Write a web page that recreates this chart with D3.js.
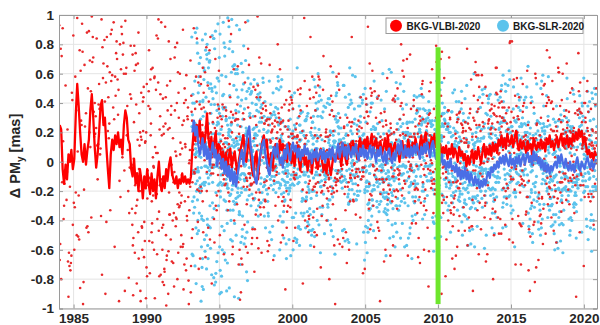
<!DOCTYPE html>
<html><head><meta charset="utf-8">
<script src="https://cdn.jsdelivr.net/npm/d3@7"></script>
<style>body{margin:0;background:#fff}</style>
</head><body><svg id="c" width="600" height="325"></svg>
<script>
const xTicks=[1985,1990,1995,2000,2005,2010,2015,2020];
const yTicks=[-1,-0.8,-0.6,-0.4,-0.2,0,0.2,0.4,0.6,0.8,1];
const seriesNames=["BKG-VLBI-2020","BKG-SLR-2020"];
const markerYear=2010;
const markerRange=[-0.97,0.78];
// smoothed series (mas), one value every 0.1 yr
const vlbiLineStart=1984.05, slrLineStart=1993.15, lineStep=0.1;
const vlbiLine=[
.25,.22,-.05,-.15,-.02,-.12,.05,0,.08,-.05,
.02,.32,.53,.38,.2,.05,0,.12,-.02,.08,
.15,.35,.46,.3,.1,-.04,.05,.2,.38,.42,
.25,.3,.1,-.05,-.18,.05,.15,.08,.18,.12,
.2,.1,.15,.05,.25,.35,.3,.15,.12,-.05,
-.1,.02,-.15,-.08,-.2,-.05,-.12,-.25,-.1,-.18,
-.05,-.15,-.22,-.08,-.2,-.12,-.25,-.1,0,-.15,
-.2,-.1,-.18,-.05,-.12,-.02,.03,-.08,-.12,-.15,
-.1,-.18,-.12,-.15,-.08,-.14,-.1,-.15,-.12,-.15,
-.1,.1,.22,.14,.25,.17,.28,.12,.2,.1,
.18,.33,.16,.08,.17,.05,.14,.2,.04,.12,
.1,.02,.07,-.03,.06,-.05,.04,.09,-.04,.03,
.07,-.02,-.08,.02,.08,.13,.18,.06,0,.1,
.16,.04,-.06,-.1,.03,.07,-.12,0,.08,.14,
.18,.1,.15,.02,-.03,.06,-.04,.05,.12,.07,
.03,.15,.08,.12,.02,.09,0,.13,.06,-.01,
.07,-.03,.05,.11,.01,-.06,.04,.08,-.02,.03,
-.06,.01,.05,-.07,.03,.08,-.01,-.05,.04,.09,
0,-.06,-.02,-.08,.04,-.03,-.09,-.01,.05,.01,
.06,.02,.09,-.03,.05,.11,.02,-.02,.08,.12,
.05,.14,.07,.12,.02,.1,.16,.06,.11,.15,
.09,.17,.08,.13,.19,.07,.12,.16,.06,.11,
.14,.05,.1,.15,.08,.18,.06,.12,.03,.1,
.13,.06,.1,0,.08,.14,.04,.11,.07,.15,
.1,.05,.13,.08,.16,.1,.05,.12,.18,.09,
.15,.2,.09,.13,.06,.17,.11,.19,.1,.14,
.07,.12,.04,.1,.06,.11,.02,.09,.05,.12,
.03,.09,.06,0,.1,.04,.07,.01,.05,-.03,
.04,-.02,.03,.08,-.01,.07,.02,.1,.04,-.01,
.07,.12,.03,.09,.05,.11,.04,.13,.07,.12,
.06,.15,.11,.18,.1,.16,.09,.19,.14,.12,
.18,.1,.16,.21,.12,.08,.15,.09,.14,.1,
.06,.14,.09,.12,.05,.16,.11,.08,.13,.1,
.15,.09,.13,.07,.16,.12,.18,.1,.14,.08,
.13,.17,.1,.15,.19,.11,.16,.12,.18,.1,
.16,.12,.19,.14,.2,.15,.22,.17,.21,.13,
.17,.11,.05,.08,.03,.06,.01,.07,.04];
const slrLine=[
.2,.28,.18,.24,.12,.05,.1,.16,.04,
.12,.02,.09,-.02,.07,.13,.03,.08,-.03,.05,
.03,-.05,.02,-.08,0,-.1,-.03,-.13,-.05,-.15,
-.07,-.17,-.09,-.02,.04,.08,-.02,.07,.13,.2,
.24,.1,.03,-.06,-.12,-.15,-.05,.02,.07,.12,
.15,.05,0,-.06,-.09,0,.06,.1,.03,.12,
.05,-.01,.03,-.04,.08,.02,.12,.06,.01,.09,
.13,.07,.11,.03,.09,.01,.08,.04,.11,.05,
.09,.02,.06,-.01,.07,.03,.09,.01,.05,.08,
.02,.08,0,.06,.03,.09,.02,.1,.04,0,
.07,.12,.03,.09,.13,.04,.1,.02,.11,.06,
.03,.1,.05,.12,.06,.01,.09,.04,.11,.03,
.08,.02,.07,.11,.03,.1,.05,0,.08,.04,
.1,.03,0,.07,-.01,.06,.09,.02,-.01,.06,
.01,.08,.12,.05,.14,.07,.03,.11,.04,.09,
.03,.1,.04,.11,.06,.12,.07,.02,.1,.05,
.12,.06,.13,.08,.03,.11,.14,.06,.02,.1,
.04,-.01,.05,-.02,.01,-.05,0,-.04,.02,-.05,
-.03,-.07,-.02,-.1,-.04,-.12,-.06,-.11,-.04,-.12,
-.07,-.14,-.08,-.12,-.16,-.1,-.15,-.12,-.18,-.13,
-.17,-.12,-.16,-.1,-.07,-.11,-.04,-.07,-.02,-.05,
0,-.04,.03,-.01,.04,-.02,.05,0,-.03,.04,
-.02,.02,-.04,.03,-.01,.04,-.03,.02,.05,-.02,
.03,.06,0,.04,-.02,.07,.01,.05,-.01,.03,
-.04,.01,-.06,-.01,-.07,-.02,-.08,-.03,-.06,-.02,
0,-.04,.04,-.01,.05,0,-.04,.02,-.03,-.06,
0,-.06,-.02,-.07,-.01,.03,-.04,-.06,0,-.03,
-.05,0,.03,-.02,-.04,.01,-.05,-.01,.02];
// individual solutions, in 0.01 mas, spread over each time span
const vlbiSpanA=[1984.0,1989.0];
const vlbiDotsA=[93,-41,62,8,-77,35,81,-12,47,-95,71,22,-58,89,14,-33,66,-2,54,-86,
38,97,-21,73,11,-64,49,85,-7,29,-48,91,61,-19,43,-90,76,18,-37,58,
3,84,-69,32,68,-26,95,50,-14,26,-82,79,41,-53,64,9,-31,87,23,-74,
56,99,-9,37,-44,72,16,-97,46,83,-23,60,5,-60,92,31,-17,70,-38,52,
13,88,-80,44,75,-4,27,-51,96,36,-28,63,19,-71,82,48,-11,59,-45,77,
21,94,-35,67,7,-88,53,86,-24,40,-62,74,10,-15,90,33,-56,65,25,-79,
57,98,-6,39,-43,80,17,-92,45,69,-30,55,2,-67,85,28,-20,78,-50,60,
12,42,-13,34,-68,58,20,-39,87,24];
const vlbiSpanB=[1989.0,1993.2];
const vlbiDotsB=[-32,55,-78,12,-45,-5,81,-60,28,-21,-93,40,-12,67,-38,3,-71,22,-54,90,
-16,-83,35,-27,8,-64,51,-9,-47,74,-35,18,-97,44,-20,-58,6,62,-40,-11,
29,-75,15,-30,86,-52,-2,38,-66,24,-88,47,-18,-43,70,-25,10,-60,33,-80,
57,-14,-36,20,-70,95,-48,4,-23,45,-90,13,-56,31,-8,78,-42,-17,52,-65,
9,-34,66,-85,26,-1,-50,41,-28,84,-62,16,-76,37,-10,-44,60,-22,2,-68,
48,-37,19,-95,30,-15,73,-53,-6,42,-82,11,-29,58,-46,23,-72,50,-19,88,
-39,-3,34,-61,14,-87,46,-26,7,-55,69,-13,-41,25,-78,39,-7,63,-33,-98,
21,-50,54,-16,-69,36,-24,92,-45,5,-63,27,-9,76,-40,-84,17,-31,49,-57,
32,-12,-74,43,-20,61,-93,8,-36,53,-27,18,-66,40,-4,-52,82,-18,28,-77,
15,-44,64,-89,35,-11,-58,22,-30,71,-48,1,-67,44,-23,97,-35,-14,56,-81,
26,-60,13,-39,79,-8,-54,31,-73,47,-21,6,-91,38,-16,59,-43,20,-62,10];
const vlbiSpanC=[1993.2,2020.9];
const vlbiDotsC=[12,-35,48,2,-60,27,90,-18,35,-5,66,-42,15,-83,40,7,-25,58,-11,31,
-48,20,75,-30,10,-68,44,-2,22,-92,53,5,-37,30,85,-15,18,-55,62,-8,
37,-22,9,70,-45,25,-12,96,-63,14,41,-28,-4,57,-76,19,33,-40,3,80,
-17,46,-52,11,28,-87,60,-6,16,-33,72,0,-24,38,-70,23,52,-13,8,-47,
29,-58,64,-10,13,43,-30,1,-95,35,17,-20,50,-65,26,6,-38,78,-14,21,
55,-9,-43,32,10,-27,68,-50,4,45,-16,88,-72,20,-3,36,-55,14,61,-23,
5,40,-32,18,-80,49,7,-19,27,93,-41,12,-6,56,-29,24,-62,34,-10,47,
-36,15,71,-24,2,39,-53,21,-12,63,-88,30,9,-44,52,-1,19,-31,82,-7,
25,-66,11,44,-20,6,-39,58,16,-15,33,-74,48,-4,22,-50,67,3,-26,37,
-11,53,-35,13,76,-57,8,29,-97,40,-18,20,62,-30,5,-45,35,-8,17,99,
14,-27,39,-3,22,-49,8,65,-16,31,-71,18,4,-36,47,-9,26,-58,11,73,
-21,33,-6,54,-40,17,2,-64,29,-13,41,9,-85,24,-2,50,-33,15,-19,60,
7,-46,28,-11,84,-24,36,-56,12,1,-30,45,-8,19,-67,38,-15,70,-4,23,
-34,10,51,-18,27,-5,-78,42,14,-26,63,-1,32,-48,6,21,-12,92,-39,16,
43,-14,3,-52,30,18,-7,57,-31,9,25,-63,40,-20,74,-9,13,-43,34,-2,
20,-37,61,4,-15,48,-69,11,-4,35,-25,16,87,-46,8,-10,29,-57,44,1,
-8,26,-44,13,69,-19,6,-33,39,-90,22,3,-14,53,-28,17,-6,46,-61,31,
10,-53,34,-1,18,-23,77,-38,24,5,-11,42,-72,15,-21,59,2,-35,28,-13,
38,-4,16,-47,55,-16,9,-29,64,-2,21,-41,11,-82,33,7,-18,49,-9,26,
-26,45,-12,20,-58,7,36,-6,95,-34,13,-22,52,0,-43,27,-15,68,-37,4,
19,-31,56,-7,24,-64,3,41,-20,14,-50,30,-3,79,-27,10,-45,37,-14,8,
47,-18,12,-39,28,1,-73,50,-10,22,6,-32,60,-24,15,-55,40,-5,18,-88,
2,34,-27,67,-12,19,-48,9,31,-17,45,-66,23,-8,55,-35,14,0,-52,29,
-44,16,-3,38,-21,81,-36,11,-6,49,-29,20,-94,35,-14,7,63,-40,25,-9,
31,-10,47,-26,5,-59,22,-1,58,-33,17,-15,42,-70,28,3,-24,54,-7,13,
-2,62,-38,18,-12,36,-52,26,9,-20,71,-45,15,-4,39,-63,21,-16,48,-30,
15,-23,30,-57,44,-8,17,-36,2,85,-41,24,-11,52,-19,33,-68,6,27,-5,
-13,40,-46,21,-2,58,-28,12,-75,37,-9,25,-53,16,46,-22,3,-38,65,-16,
24,-6,53,-32,14,-47,30,-14,70,-25,8,-60,36,-3,19,-42,57,-12,10,-80,
36,-19,4,-44,26,13,-31,49,-7,18,-56,41,-17,91,-26,12,-37,28,-1,59,
-9,32,-60,15,-21,43,-4,25,-48,64,-13,30,-39,9,50,-23,17,-67,34,-11,
21,-40,8,55,-18,29,-73,14,-6,38,-28,19,66,-49,11,-15,45,-34,1,24,
-27,51,-14,33,-2,-54,20,-10,76,-37,16,-20,40,-62,27,5,-43,31,-8,57,
8,-33,42,-16,23,-69,35,-5,13,-45,29,98,-24,18,-11,47,-58,22,-3,39,
-41,17,-9,59,-30,11,-52,26,-19,44,-7,32,-83,21,-12,54,-26,7,36,-15,
28,-2,-47,16,61,-21,9,-35,40,-12,24,-65,19,2,-38,50,-17,33,-56,12,
-5,37,-28,13,-63,45,-9,21,-42,30,82,-16,8,-31,46,-24,15,-70,26,-6,
34,-15,22,-51,6,39,-26,58,-13,17,-36,27,-5,64,-44,10,-22,41,-89,19,
-20,48,-7,30,-46,14,-1,56,-32,23,-15,71,-53,9,36,-28,18,-11,43,-60,
11,-39,27,-13,80,-24,17,-50,33,-4,20,-42,52,-18,6,-66,29,-9,38,-27,
-14,26,-57,40,-6,16,-34,62,-20,11,-48,31,-3,44,-25,14,-73,35,-12,53,
23,-8,45,-29,12,-61,28,-16,37,-2,77,-38,19,-10,49,-43,24,-19,6,-54,
-32,18,-5,51,-22,33,-45,10,-13,67,-30,21,-8,42,-64,16,3,-27,58,-11,
40,-24,15,-40,9,-17,54,-33,26,-6,31,-55,13,85,-21,8,-46,37,-14,20,
-3,44,-36,19,-58,27,-11,48,-25,14,-70,34,-8,23,-39,61,-15,10,-49,30];
const vlbiSpanCore=[1993.2,2020.9];
const vlbiDotsCore=[15,-8,28,3,-19,12,36,-2,21,7,-14,30,1,18,-25,10,42,-6,24,5,
-11,19,33,-3,9,-22,14,27,-7,38,4,-16,20,11,-1,31,-20,16,8,-9,
25,2,-13,35,13,-4,22,-27,6,17,40,-10,29,0,-18,11,26,-5,34,9,
-2,21,-15,14,32,-8,5,23,-24,18,1,37,-12,10,28,-3,15,-19,44,6,
12,-17,30,4,-6,26,16,-28,8,34,-1,20,-10,39,3,14,-21,24,7,-13,
31,-5,11,-23,19,2,43,-9,17,-14,27,6,-3,22,-26,13,35,-7,10,-16,
4,24,-12,16,-30,29,8,-4,33,-18,12,21,-8,1,38,-11,18,-22,26,3,
-6,14,36,-15,9,-2,25,-20,13,41,-7,5,30,-12,20,-1,-25,16,7,29,
19,-10,3,27,-19,11,-5,33,2,-13,23,15,-24,8,-3,36,10,-17,22,0,
-14,28,6,-8,17,39,-21,12,-2,25,7,-11,31,-27,14,4,20,-6,35,-18,
9,-3,22,-16,30,1,-9,18,45,-23,13,-4,27,10,-15,24,-1,16,-28,11,
26,-12,8,34,-7,15,-19,3,21,-5,37,-14,6,28,-10,19,2,-21,12,32,
-4,17,-26,23,5,-13,29,11,-8,40,-17,9,-2,24,14,-22,31,-6,18,-11,
7,33,-10,14,-20,2,26,-3,19,-29,10,35,-9,4,22,-15,13,27,-7,-1,
21,-18,37,0,12,-6,24,-24,16,8,-12,30,3,-19,42,-8,11,-2,25,-14,
-9,13,2,28,-23,18,-4,9,33,-16,6,20,-1,-27,15,38,-11,22,5,-5,
30,-2,16,-12,24,7,-21,35,-6,11,-15,27,14,-3,19,-25,8,32,-10,17,
1,-14,25,9,-7,41,-18,4,21,-9,29,-4,12,-22,36,6,-13,17,-1,23,
-17,10,-5,31,14,-11,3,26,-26,18,-2,34,-8,20,-16,9,28,-3,13,-20,
16,-7,22,-19,6,36,-12,15,-1,27,-24,11,39,-6,4,-14,23,-9,30,2];
const slrSpanA=[1993.1,1997.0];
const slrDotsA=[85,-42,23,67,-90,14,52,-28,96,5,-61,38,-15,74,30,-77,48,-5,62,-36,
19,91,-54,33,-12,78,-40,8,57,-83,26,-2,69,-47,41,12,-68,88,-22,50,
-9,36,-72,60,3,-31,82,17,-56,45,-18,93,-3,27,-86,54,11,-44,71,-25,
39,-64,6,80,-37,22,-11,63,-79,32,98,-50,15,-20,58,-92,43,1,-33,76,
24,-58,47,-7,86,-41,29,10,-70,55,-26,65,4,-48,37,-14,90,-62,21,-4,
53,-19,72,-87,34,7,-45,61,-30,18,81,-66,44,-1,26,-53,68,-13,95,-39,
12,-76,40,-23,64,-8,31,-95,49,16,-35,77,-57,2,59,-21,35,-84,46,-10,
70,-46,9,52,-29,84,-63,25,-3,42,-74,13,66,-38,20,-16,87,-55,33,-6,
-27,48,-81,28,62,-12,38,-49,75,-2,21,-67,56,-34,94,-20,11,-59,43,-8,
31,-93,57,-15,26,69,-52,4,83,-24,47,-71,17,-44,36,8,-37,63,-82,22,
45,-11,79,-60,13,-28,51,-6,92,-43,29,-78,6,60,-32,40,-18,73,-51,15,
-35,66,-4,24,-69,44,-21,87,-47,10,-14,57,-88,34,-9,71,-40,3,50,-26,
58,-53,17,-30,81,-16,39,-75,6,64,-36,27,-7,97,-45,19,-62,42,-1,35,
9,-40,68,-19,46,-85,25,-3,55,-33,74,-12,37,-58,14,89,-24,30,-66,53,
-16,29,-50,77,-8,18,-39,61,-89,41,-5,84,-27,12,-73,49,-14,67,-42,26];
const slrSpanB=[1997.0,2020.9];
const slrDotsB=[12,-28,35,-5,19,-41,8,50,-16,26,-9,44,-33,3,22,-55,15,-2,38,-20,
-11,31,-37,6,58,-24,14,-3,27,-48,20,-7,41,-15,9,-31,64,-19,4,25,
17,-6,46,-29,11,-18,33,-52,2,39,-13,24,-40,7,53,-22,16,-8,30,-61,
-3,21,-34,47,-10,13,-25,36,-4,18,-45,28,-14,60,-26,5,-37,23,-1,43,
8,-20,29,-12,40,-57,10,-30,25,-6,49,-17,2,34,-43,15,-9,55,-23,19,
-27,11,-2,37,-35,22,-11,45,-19,6,-66,30,-8,16,-28,51,-14,26,-5,33,
14,-39,20,-7,42,-21,3,-47,27,-13,36,-3,59,-32,9,-24,31,-10,48,-16,
-8,26,-50,13,-1,35,-29,18,-12,52,-36,7,24,-18,40,-44,12,-6,28,-58,
32,-15,4,-38,23,-9,57,-25,11,-31,19,-2,45,-53,16,-20,38,-11,6,-41,
20,-4,43,-26,10,-47,29,-16,63,-33,15,-7,27,-39,2,48,-19,34,-12,9,
-22,39,-13,17,-56,24,-5,31,-42,8,53,-28,13,-9,36,-64,21,-3,41,-17,
5,-33,27,-10,46,-23,14,-51,33,-6,19,-37,60,-14,3,-27,44,-8,22,-45,
29,-12,50,-30,7,-19,38,-2,16,-43,26,-11,42,-24,10,-59,35,-15,1,23,
-36,13,-7,55,-21,30,-45,9,-14,40,-32,18,-3,47,-25,6,-38,28,-9,62,
16,-24,34,-1,21,-49,12,-18,44,-29,4,-57,25,-8,37,-16,52,-34,11,-4,
-14,44,-20,8,-40,26,-6,58,-27,15,-12,33,-47,20,-2,39,-23,13,-54,30,
3,-30,19,-46,36,-8,24,-15,49,-35,10,-4,28,-20,65,-42,17,-10,32,-26,
41,-9,15,-34,6,-22,43,-13,27,-60,18,-5,35,-28,12,-44,54,-17,24,-1,
-19,28,-53,10,-3,46,-31,21,-7,38,-16,9,-48,30,-11,56,-24,14,-37,7,
25,-43,11,-15,51,-27,4,-36,20,-10,45,-22,16,-67,33,-6,23,-32,43,-13,
-6,37,-18,24,-44,13,-2,50,-26,7,-38,29,-12,42,-55,19,-8,35,-21,15,
10,-25,46,-11,28,-57,17,-4,33,-19,61,-30,5,-41,22,-14,40,-3,18,-49,
-30,20,-8,39,-17,9,-46,27,-24,53,-5,14,-33,44,-13,26,-62,31,-1,36,
18,-52,30,-6,42,-20,13,-35,5,-13,48,-39,21,-9,34,-26,11,-48,57,-15,
-2,33,-27,15,-59,40,-11,22,-3,46,-32,8,-21,29,-44,17,-7,52,-28,12,
34,-14,6,-42,25,-5,59,-23,12,-37,18,-64,31,-12,4,-29,45,-18,27,-8,
-13,47,-31,19,-2,30,-50,14,-20,38,-9,24,-36,56,-15,8,-43,20,-6,41,
7,-39,23,-17,53,-25,10,-8,36,-47,15,-1,44,-33,19,-56,28,-11,50,-22,
-24,16,-4,49,-36,11,-28,32,-14,58,-20,5,-45,26,-7,39,-16,13,-60,30,
22,-9,40,-53,14,-31,27,-3,47,-18,9,-40,63,-24,17,-12,35,-46,6,-19,
-17,29,-44,12,-8,41,-22,18,-57,34,-5,25,-14,49,-34,10,-27,43,-2,15,
38,-20,9,-29,55,-11,20,-49,26,-7,32,-23,2,46,-38,14,-9,61,-30,11,
-5,24,-36,45,-16,8,-40,30,-12,17,-52,37,-4,21,-28,54,-19,13,-43,27,
13,-47,28,-3,36,-24,15,-61,41,-10,23,-17,50,-35,7,-21,33,-6,44,-32,
-28,6,52,-19,21,-38,11,-14,43,-27,4,59,-45,16,-9,31,-52,24,-2,37,
19,-11,34,-46,8,-23,47,-6,26,-40,15,-31,38,-2,55,-25,12,-16,29,-50,
-9,42,-21,16,-54,32,-3,23,-35,10,-17,48,-26,19,-66,27,-10,40,-18,6,
27,-35,4,57,-12,18,-42,35,-8,24,-29,13,-50,39,-15,7,-37,46,-4,20,
-15,31,-48,9,-26,44,-14,28,-3,64,-33,17,-19,33,-43,12,-7,51,-24,14,
45,-3,17,-39,26,-16,37,-53,11,-8,30,-21,42,-12,5,-47,24,-28,56,-10,
-21,12,-33,51,-7,22,-45,16,-29,35,-11,9,-58,28,-4,43,-20,31,-36,4,
15,-44,25,-13,40,-30,8,-19,49,-5,21,-38,14,-24,60,-16,27,-51,10,-2,
-34,23,-6,38,-18,14,-55,29,-10,46,-26,11,-41,33,-3,19,-30,52,-13,25,
6,-27,44,-20,11,-48,31,-1,24,-35,17,-12,57,-42,20,-8,36,-22,13,-63,
-12,36,-16,27,-40,5,-23,41,-31,13,-6,50,-19,25,-52,34,-14,9,-45,30,
31,-7,20,-56,16,-33,10,-4,45,-21,36,-48,7,-15,28,-37,21,-9,48,-26,
-25,47,-13,22,-2,-45,34,-17,18,-62,26,-8,39,-28,12,-19,55,-35,8,-11,
11,-32,54,-24,9,-14,30,-43,21,-5,42,-27,16,-53,32,-10,24,-39,17,1,
-40,19,-9,33,-49,25,-18,13,-37,48,-1,30,-24,8,-44,40,-15,22,-58,28,
24,-15,39,-7,15,-41,28,-20,53,-30,6,-13,34,-46,18,-3,45,-26,11,-37,
-7,30,-52,18,-24,10,-36,44,-12,21,-47,15,-4,38,-29,26,-64,12,-20,49,
17,-41,9,-16,46,-28,23,-55,14,-9,35,-19,28,-33,4,-50,20,-6,31,-23,
-31,14,-3,42,-21,34,-58,7,-14,27,-38,52,-10,18,-26,37,-45,15,-2,24,
9,-23,32,-47,20,-5,44,-32,11,-18,29,-60,23,-11,47,-24,6,-39,27,-14,
-18,38,-11,25,-36,12,-51,30,-3,16,-43,21,-16,56,-31,9,-22,40,-8,19,
36,-6,16,-34,8,-25,51,-13,27,-44,12,-1,33,-52,20,-17,29,-10,43,-29,
-14,25,-49,11,-3,37,-20,17,-58,30,-9,44,-27,14,-35,24,-6,50,-41,5,
21,-37,7,-19,42,-12,26,-46,13,-30,54,-8,19,-23,35,-55,10,-15,38,-4,
-26,10,-40,29,-14,46,-5,22,-34,15,-48,31,-17,9,-62,27,-11,36,-21,13,
28,-11,45,-27,14,-38,6,-16,34,-51,23,-4,41,-20,12,-33,26,-45,18,-7];
const slrSpanCore=[1993.3,2020.9];
const slrDotsCore=[5,-12,18,-3,9,-21,2,14,-8,25,-15,0,11,-27,7,-5,16,-10,21,-1,
-7,13,-18,4,28,-11,1,-24,10,-4,17,-14,6,-30,12,3,-9,22,-16,8,
15,-2,-19,9,-6,24,-13,3,11,-26,19,-8,0,14,-17,6,-11,27,-4,10,
-14,7,20,-9,2,-22,12,-5,16,-1,-28,9,23,-12,4,-7,18,-19,1,13,
3,-16,10,26,-8,5,-13,19,-3,8,-20,14,-6,1,29,-15,7,-10,12,-25,
18,-4,6,-17,11,-1,21,-12,-33,9,2,-7,15,-21,5,24,-9,0,-14,16,
-10,22,-5,8,-15,13,-26,4,17,-2,10,-19,7,-11,25,-3,12,-23,6,-8,
9,-13,27,-6,1,-18,14,-9,20,3,-12,5,-29,11,-4,16,-1,-16,8,19,
-5,11,-21,15,-7,4,23,-14,6,-10,18,-2,9,-24,13,0,-17,21,-8,2,
14,-9,3,-26,17,-3,8,-12,28,-6,11,-20,1,15,-13,7,-31,10,-4,22,
-2,16,-11,5,-19,24,-7,12,-1,-15,9,20,-10,3,-23,17,-5,6,-14,11,
7,-20,13,-4,21,-9,0,-16,10,-27,15,-3,19,-11,4,-6,26,-18,8,-1,
-12,5,-24,18,-2,10,-14,22,-8,3,-17,12,-5,28,-21,9,-3,14,-10,1,
20,-6,11,-13,4,-30,16,-1,9,-18,6,23,-12,2,-8,15,-22,10,-4,17,
-9,13,-3,25,-16,7,-11,1,19,-24,12,-6,8,-14,21,-2,5,-19,14,-7,
11,-17,6,-2,15,-10,29,-5,3,-21,18,-8,13,-1,-26,9,-13,20,-3,4,
-15,8,19,-11,2,-7,14,-25,10,-3,22,-13,5,-18,7,16,-6,0,-20,12,
6,-1,-14,21,-9,17,-4,9,-19,13,-2,26,-16,4,-10,11,-28,15,-5,8,
-4,18,-10,3,-23,12,-6,24,-12,7,-15,1,17,-8,10,-20,6,-2,19,-13,
13,-8,2,-17,9,-27,16,-3,5,-11,20,-14,8,-5,27,-9,3,-16,11,-22,
-11,4,23,-6,14,-18,0,11,-21,6,-4,15,-9,19,-15,2,-26,13,-7,9,
17,-13,7,-1,-20,10,-5,28,-10,3,-16,12,-24,5,-3,21,-12,8,-18,1,
-6,12,-19,16,-2,5,-12,20,-7,-29,11,-4,14,-17,9,-1,18,-11,4,24,
2,-22,9,-8,25,-14,6,-3,13,-18,1,17,-10,7,-25,15,-5,11,-2,-13,
10,-5,16,-24,3,-9,21,-15,8,0,-12,26,-7,12,-19,4,-8,15,-28,6,
-17,9,-1,13,-11,19,-6,2,-22,14,-3,8,-15,23,-9,5,-20,10,-1,16,
4,-14,27,-7,11,-3,-18,7,15,-10,20,-25,6,-2,12,-13,1,24,-8,9,
-8,15,-12,5,-26,18,-4,10,-16,3,-9,22,-14,8,-1,-21,13,-6,17,-3,
12,-3,8,-19,6,-13,24,-9,1,-23,15,-5,10,-17,28,-7,2,-12,9,-27,
-1,20,-15,10,-6,3,-21,16,-11,11,-4,-19,7,-8,18,-14,5,-30,14,2,
8,-10,5,-22,17,-2,12,-16,26,-5,9,-13,3,-24,11,-1,19,-9,6,-15,
-13,3,18,-9,0,-17,10,-4,14,-28,21,-7,13,-11,4,-19,8,16,-6,10,
15,-21,4,-12,22,-7,7,-14,1,-10,16,-3,25,-18,6,-9,13,-2,-23,11,
-3,9,-25,14,-8,20,-1,-12,6,17,-16,2,-6,11,-20,18,-10,5,-14,27,
6,-15,12,-2,10,-26,15,-7,19,-4,3,-21,9,-13,23,-5,14,-18,0,8,
-20,7,-8,19,-13,4,-2,24,-17,8,-11,14,-29,10,-3,16,-7,2,-16,13,
9,-4,17,-15,5,-10,13,-20,2,29,-9,6,-14,18,-1,-24,11,-5,21,-11,
-7,14,-2,9,-18,11,-27,5,-8,15,-12,22,-4,3,-19,12,-15,7,-3,18,
16,-12,1,-16,20,-5,8,-11,12,-22,4,-1,19,-14,9,-6,25,-20,13,-9,
-10,5,-17,22,-4,13,-23,9,-6,1,-13,17,-8,11,-26,6,-3,14,-11,3];

const colVlbi="#ff0000", colVlbiDot="#e8292b", colSlrDot="#5cc3ec", colSlrLine="#4a6ee6", colMarker="#6de62c";
const FONT="'Liberation Sans', Arial, sans-serif";
const svg=d3.select("#c");
const x=d3.scaleLinear().domain([1984.0,2020.9]).range([59,597]);
const y=d3.scaleLinear().domain([-1,1]).range([308.5,15]);
const [X0,X1]=x.range(), [Y0,Y1]=y.range();

svg.append("clipPath").attr("id","clip").append("rect")
  .attr("x",X0).attr("y",Y1).attr("width",X1-X0).attr("height",Y0-Y1);

// grid
const grid=svg.append("g").attr("stroke","#e4e4e4").attr("stroke-width",1);
grid.selectAll(".gx").data(xTicks).join("line").attr("x1",d=>x(d)).attr("x2",d=>x(d)).attr("y1",Y1).attr("y2",Y0);
grid.selectAll(".gy").data(yTicks).join("line").attr("x1",X0).attr("x2",X1).attr("y1",d=>y(d)).attr("y2",d=>y(d));

// place the listed solutions over their span (listing order is interleaved in time)
function gcd(a,b){return b?gcd(b,a%b):a;}
function spread(vals,span){
  const n=vals.length; let s=Math.round(n*0.618); while(gcd(s,n)!==1) s++;
  return vals.map((v,i)=>[span[0]+(((i*s)%n)+0.5)*(span[1]-span[0])/n, v/100]);
}
const plot=svg.append("g").attr("clip-path","url(#clip)");
function dots(data,color,r){
  plot.append("g").attr("fill",color).selectAll("circle").data(data).join("circle")
    .attr("cx",d=>x(d[0])).attr("cy",d=>y(d[1])).attr("r",r);
}
dots(spread(slrDotsA,slrSpanA).concat(spread(slrDotsB,slrSpanB),spread(slrDotsCore,slrSpanCore)),colSlrDot,1.6);
dots(spread(vlbiDotsA,vlbiSpanA).concat(spread(vlbiDotsB,vlbiSpanB),spread(vlbiDotsC,vlbiSpanC),spread(vlbiDotsCore,vlbiSpanCore)),colVlbiDot,1.3);

const lineV=d3.line().x((d,i)=>x(vlbiLineStart+i*lineStep)).y(d=>y(d));
const lineS=d3.line().x((d,i)=>x(slrLineStart+i*lineStep)).y(d=>y(d));
plot.append("path").attr("d",lineV(vlbiLine)).attr("fill","none").attr("stroke",colVlbi).attr("stroke-width",2.3).attr("stroke-linejoin","round");
plot.append("path").attr("d",lineS(slrLine)).attr("fill","none").attr("stroke",colSlrLine).attr("stroke-width",2.3).attr("stroke-linejoin","round");

// marker bar
svg.append("rect").attr("x",x(markerYear)-2.5).attr("width",5)
  .attr("y",y(markerRange[1])).attr("height",y(markerRange[0])-y(markerRange[1])).attr("fill",colMarker);

// axes
const fmtY=d=>d===0?"0":String(+d.toFixed(1));
function styleAxis(g){
  g.select(".domain").attr("stroke","#9a9a9a");
  g.selectAll(".tick line").attr("stroke","#9a9a9a");
  g.selectAll("text").attr("font-family",FONT).attr("font-size",13.5).attr("font-weight","bold").attr("fill","#262626");
}
svg.append("g").attr("transform",`translate(0,${Y0})`).call(d3.axisBottom(x).tickValues(xTicks).tickFormat(d3.format("d")).tickSize(-4).tickPadding(5)).call(styleAxis);
svg.append("g").attr("transform",`translate(0,${Y1})`).call(d3.axisTop(x).tickValues(xTicks).tickFormat("").tickSize(-4)).call(styleAxis);
svg.append("g").attr("transform",`translate(${X0},0)`).call(d3.axisLeft(y).tickValues(yTicks).tickFormat(fmtY).tickSize(-4).tickPadding(5)).call(styleAxis);
svg.append("g").attr("transform",`translate(${X1},0)`).call(d3.axisRight(y).tickValues(yTicks).tickFormat("").tickSize(-4)).call(styleAxis);

// y label
const yl=svg.append("text").attr("transform","translate(20,156) rotate(-90)").attr("text-anchor","middle")
  .attr("font-family",FONT).attr("font-size",14.5).attr("font-weight","bold").attr("fill","#262626");
yl.append("tspan").text("Δ PM");
yl.append("tspan").attr("font-size",10).attr("dy",4).text("y");
yl.append("tspan").attr("dy",-4).text(" [mas]");

// legend
const leg=svg.append("g");
leg.append("rect").attr("x",386).attr("y",18).attr("width",197).attr("height",15.5).attr("fill","#fff").attr("stroke","#9a9a9a");
const legItems=[{name:seriesNames[0],color:colVlbi,cx:396,tx:406.5},{name:seriesNames[1],color:colSlrDot,cx:503,tx:513}];
leg.selectAll("circle").data(legItems).join("circle").attr("cx",d=>d.cx).attr("cy",25.8).attr("r",6).attr("fill",d=>d.color);
leg.selectAll("text").data(legItems).join("text").attr("x",d=>d.tx).attr("y",29.6).text(d=>d.name)
  .attr("font-family",FONT).attr("font-size",10).attr("font-weight","bold").attr("fill","#1a1a1a");
</script></body></html>
